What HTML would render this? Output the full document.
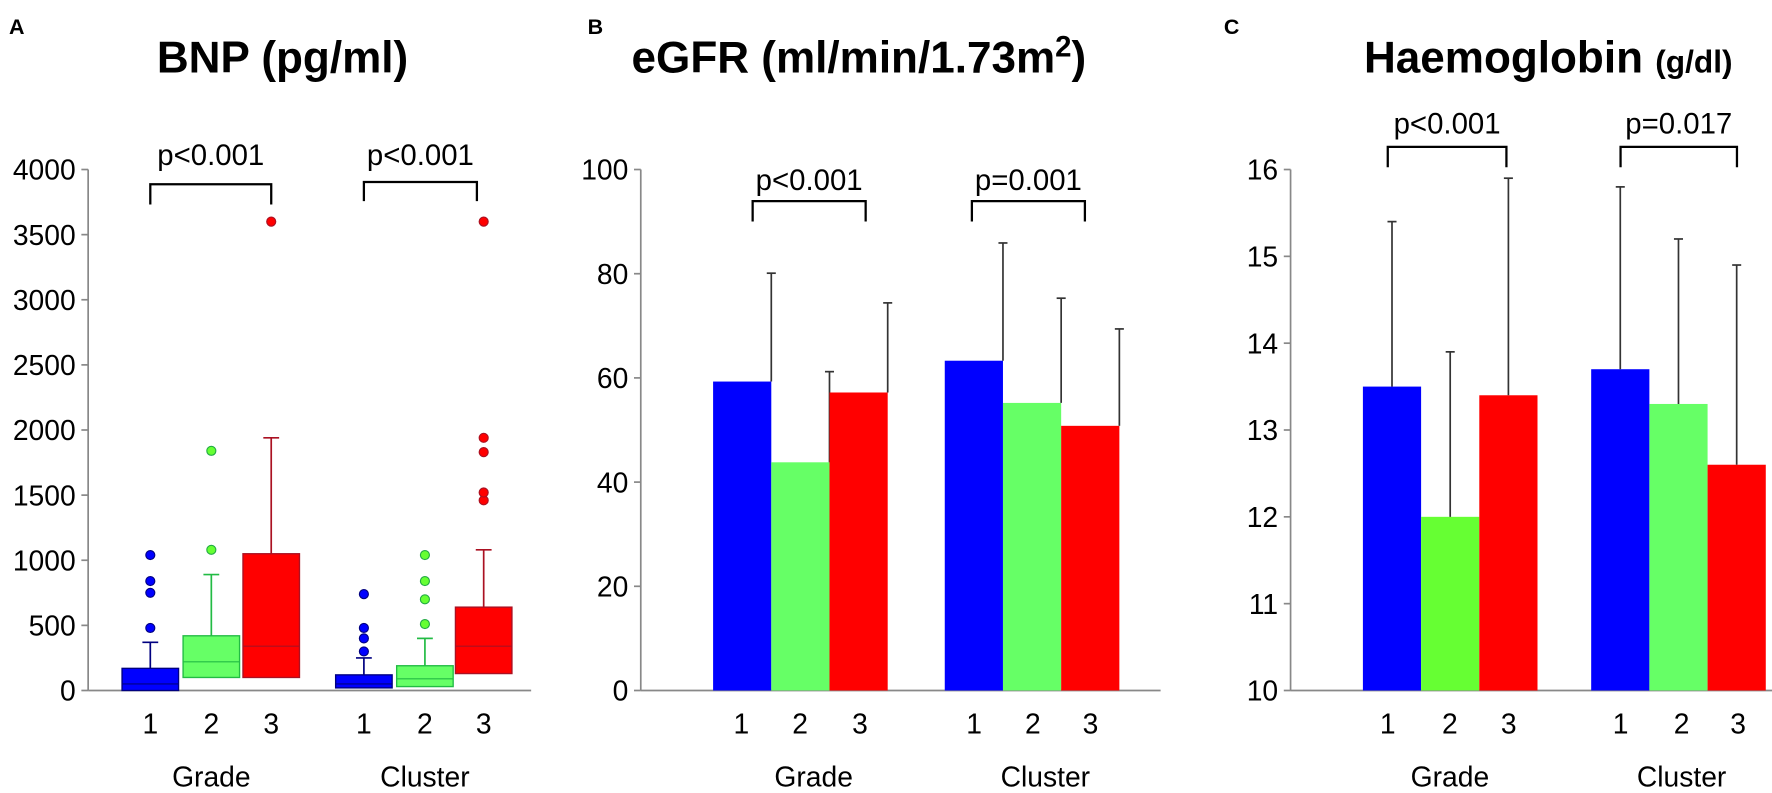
<!DOCTYPE html>
<html><head><meta charset="utf-8"><style>
body{margin:0;background:#fff}
svg{display:block;font-family:"Liberation Sans",Arial,sans-serif}
</style></head><body>
<svg id="s" width="1772" height="793" viewBox="0 0 1772 793"><g id="c" transform="scale(1.1301)"></g></svg>
<script>
// Panel A data (BNP box plots)
const boxQ1=[0,100,100,20,30,130];
const boxMed=[50,220,340,50,90,340];
const boxQ3=[170,420,1050,120,190,640];
const boxWLo=[0,0,0,0,0,0];
const boxWHi=[370,890,1940,250,400,1080];
const boxOut=[[480,750,840,1040],[1080,1840],[3600],[300,400,480,740],[510,700,840,1040],[1460,1520,1830,1940,3600]];
const aTicks=[0,500,1000,1500,2000,2500,3000,3500,4000];
// Panel B data (eGFR)
const bMeans=[59.3,43.8,57.2,63.3,55.2,50.8];
const bErr=[80.1,61.2,74.4,85.9,75.3,69.4];
const bTicks=[0,20,40,60,80,100];
// Panel C data (Haemoglobin)
const cMeans=[13.5,12.0,13.4,13.7,13.3,12.6];
const cErr=[15.4,13.9,15.9,15.8,15.2,14.9];
const cTicks=[10,11,12,13,14,15,16];
const cats=["1","2","3","1","2","3"];
const groups=["Grade","Cluster"];

const svg=document.getElementById('c');
const NS="http://www.w3.org/2000/svg";
function el(tag,attrs,parent){const e=document.createElementNS(NS,tag);for(const k in attrs)e.setAttribute(k,attrs[k]);(parent||svg).appendChild(e);return e;}
function txt(x,y,s,size,parent,extra){const t=el('text',Object.assign({x:x,y:y,'font-size':size,'text-anchor':'middle',fill:'#000'},extra||{}),parent);t.textContent=s;return t;}

const fills=['#0000ff','#66ff66','#ff0000'];
const strokes=['#000080','#22bb44','#aa1122'];
const dotFill=['#0000ff','#66ff33','#ff0000'];

function axis(g,x,y0,y1,ticks,yf,name){
  const a=el('line',{x1:x,x2:x,y1:y0,y2:y1,stroke:'#888','stroke-width':1.5},g);
  
  
  ticks.forEach(t=>{
    el('line',{x1:x-6,x2:x,y1:yf(t),y2:yf(t),stroke:'#888','stroke-width':1.5},g);
    const l=txt(x-11,yf(t)+9,String(t),25,g,{'text-anchor':'end'});
    
    
  });
}
function bracket(g,x1,x2,yt,yb,label,ty,name){
  el('path',{d:`M${x1},${yb}V${yt}H${x2}V${yb}`,fill:'none',stroke:'#000','stroke-width':2},g);
  const t=txt((x1+x2)/2,ty,label,26,g);
  
  
}
function xlabels(g,xs,baseY,gx,name){
  xs.forEach((x,i)=>{const t=txt(x,baseY,cats[i],25,g);
    
    });
  groups.forEach((s,i)=>{const t=txt(gx[i],baseY+47,s,25,g);
    
    });
}

[['A',8],['B',520],['C',1083]].forEach(p=>{const t=txt(p[1],30,p[0],19,svg,{'text-anchor':'start','font-weight':'bold'});
  
  });
let t1=txt(250,64,'BNP (pg/ml)',39,svg,{'font-weight':'bold'});

let t2=el('text',{x:760,y:64,'font-size':39,'font-weight':'bold','text-anchor':'middle'});
t2.innerHTML='eGFR (ml/min/1.73m<tspan font-size="26" dy="-14">2</tspan><tspan dy="14">)</tspan>';

let t3=el('text',{x:1370,y:64,'font-size':39,'font-weight':'bold','text-anchor':'middle'});
t3.innerHTML='Haemoglobin <tspan font-size="28">(g/dl)</tspan>';


// Panel A
const gA=el('g',{});

const yA=v=>611-v*(461/4000);
axis(gA,78,150,611,aTicks,yA,'bnp');
el('line',{x1:78,x2:470,y1:611,y2:611,stroke:'#888','stroke-width':1.5},gA);
const xA=[133,187,240,322,376,428];
boxQ1.forEach((q1,i)=>{
  const c=i%3,x=xA[i],w=50;
  const bx=el('g',{},gA);
  
  
  el('line',{x1:x,x2:x,y1:yA(boxQ3[i]),y2:yA(boxWHi[i]),stroke:strokes[c],'stroke-width':1.5},bx);
  el('line',{x1:x-7,x2:x+7,y1:yA(boxWHi[i]),y2:yA(boxWHi[i]),stroke:strokes[c],'stroke-width':1.5},bx);
  el('rect',{x:x-w/2,y:yA(boxQ3[i]),width:w,height:yA(q1)-yA(boxQ3[i]),fill:fills[c],stroke:strokes[c],'stroke-width':1.2},bx);
  el('line',{x1:x-w/2,x2:x+w/2,y1:yA(boxMed[i]),y2:yA(boxMed[i]),stroke:strokes[c],'stroke-width':1},bx);
  boxOut[i].forEach(o=>{const d=el('circle',{cx:x,cy:yA(o),r:4,fill:dotFill[c],stroke:c==1?'#22aa44':strokes[c],'stroke-width':1},bx);
    });
});
bracket(gA,133,240,163,181,'p<0.001',146,'bnp-grade-p-value');
bracket(gA,322,422,161,178,'p<0.001',146,'bnp-cluster-p-value');
xlabels(gA,xA,649,[187,376],'bnp');

function barPanel(name,ax,yf,ticks,x0list,means,errs,centered,gfill){
  const g=el('g',{});
  
  axis(g,ax,150,611,ticks,yf,name);
  el('line',{x1:ax,x2:ax+460,y1:611,y2:611,stroke:'#888','stroke-width':1.5},g);
  const w=51.5;
  means.forEach((m,i)=>{
    const c=i%3,x=x0list[i];
    const r=el('rect',{x:x,y:yf(m),width:w,height:611-yf(m),fill:gfill[i]},g);
    
    
    const ex=centered?x+w/2:x+w;
    el('line',{x1:ex,x2:ex,y1:yf(m),y2:yf(errs[i]),stroke:'#333','stroke-width':1.5},g);
    el('line',{x1:ex-4,x2:ex+4,y1:yf(errs[i]),y2:yf(errs[i]),stroke:'#333','stroke-width':1.5},g);
  });
  return g;
}
const yB=v=>611-v*(461/100);
const gB=barPanel('egfr',567,yB,bTicks,[631,682.5,734,836,887.5,939],bMeans,bErr,false,['#0000ff','#66ff66','#ff0000','#0000ff','#66ff66','#ff0000']);
bracket(gB,666,766,178,196,'p<0.001',168,'egfr-grade-p-value');
bracket(gB,860,960,178,196,'p=0.001',168,'egfr-cluster-p-value');
xlabels(gB,[656,708,761,862,914,965],649,[720,925],'egfr');

const yC=v=>611-(v-10)*(461/6);
const gC=barPanel('haemoglobin',1142,yC,cTicks,[1206,1257.5,1309,1408,1459.5,1511],cMeans,cErr,true,['#0000ff','#66ff33','#ff0000','#0000ff','#66ff66','#ff0000']);
bracket(gC,1228,1333,130,148,'p<0.001',118,'haemoglobin-grade-p-value');
bracket(gC,1434,1537,130,148,'p=0.017',118,'haemoglobin-cluster-p-value');
xlabels(gC,[1228,1283,1335,1434,1488,1538],649,[1283,1488],'haemoglobin');
</script>
</body></html>
